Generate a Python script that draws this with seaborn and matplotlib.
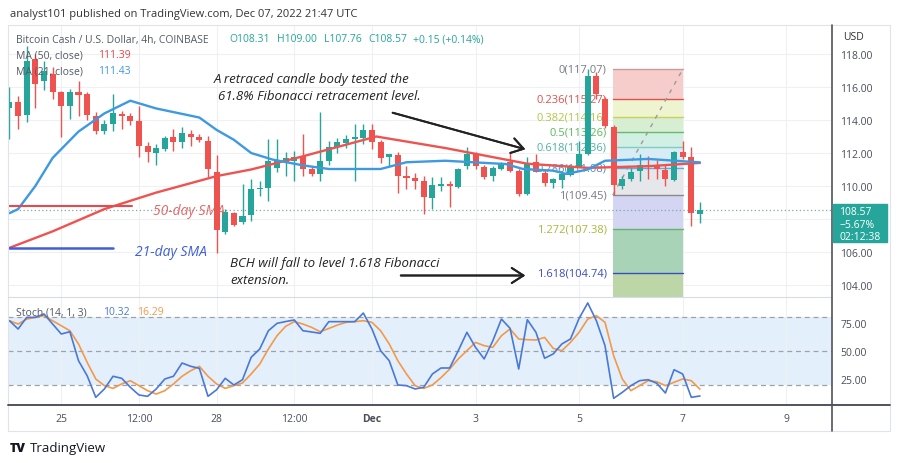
import numpy as np
import pandas as pd
import matplotlib
matplotlib.use("Agg")
import matplotlib.pyplot as plt
import seaborn as sns
from matplotlib.patches import Rectangle
from matplotlib.lines import Line2D

# ---- candles (4h bars, Nov 24 00:00 -> Dec 7 08:00) ----
opens = [114.7, 115.1, 114.3, 117.7, 116.35, 116.8, 115.7, 114.85, 115.7, 115.55,
         114.25, 113.35, 113.75, 114.35, 114.25, 113.95, 112.45, 112.0, 112.24, 112.95,
         112.65, 113.15, 112.95, 112.75, 110.87, 107.2, 108.36, 107.8, 108.24, 109.8,
         109.86, 111.07, 111.44, 111.53, 111.8, 111.03, 110.73, 111.53, 112.35, 112.6,
         112.85, 112.89, 113.41, 112.69, 111.74, 111.88, 110.63, 110.47, 110.32, 109.25,
         110.02, 110.1, 109.92, 111.23, 111.94, 111.13, 110.59, 111.03, 111.47, 110.93,
         109.52, 111.44, 110.79, 110.18, 110.38, 110.67, 111.13, 111.94, 116.65, 115.3,
         113.56, 109.98, 110.42, 110.93, 111.27, 111.23, 110.99, 110.38, 112.04, 111.74,
         108.31]
highs = [116.0, 115.45, 118.5, 118.0, 117.6, 117.2, 115.75, 115.9, 116.35, 115.7,
         114.5, 114.0, 115.6, 114.55, 114.4, 114.85, 112.65, 112.55, 113.05, 113.45,
         113.55, 113.4, 113.15, 113.05, 111.9, 108.6, 108.45, 110.1, 110.4, 110.3,
         112.85, 112.85, 112.06, 112.14, 113.15, 111.2, 114.5, 112.75, 112.9, 113.1,
         113.75, 113.76, 113.76, 112.8, 111.94, 112.04, 111.23, 110.77, 110.63, 110.53,
         110.53, 110.3, 111.1, 112.35, 112.05, 111.25, 111.2, 111.45, 112.08, 111.0,
         111.74, 111.94, 111.0, 110.5, 110.93, 111.3, 112.75, 117.07, 116.9, 115.4,
         113.7, 110.6, 111.1, 111.94, 111.84, 111.6, 111.3, 112.1, 112.75, 112.35,
         109.0]
lows = [112.85, 113.45, 113.9, 114.7, 115.8, 115.3, 113.0, 114.05, 114.25, 114.0,
        113.15, 113.15, 113.35, 113.45, 113.7, 111.75, 111.45, 111.27, 112.14, 112.14,
        112.3, 112.4, 112.65, 110.53, 105.95, 107.1, 107.55, 107.7, 107.85, 109.4,
        109.1, 110.85, 110.63, 110.32, 110.62, 110.6, 110.32, 111.3, 112.0, 112.3,
        110.3, 112.55, 112.24, 111.4, 111.2, 109.58, 109.82, 109.82, 108.3, 108.6,
        109.7, 108.7, 109.85, 111.03, 111.0, 110.4, 110.3, 110.95, 110.83, 109.4,
        109.45, 110.83, 110.0, 109.9, 109.86, 110.6, 111.13, 111.85, 115.3, 113.5,
        109.45, 109.8, 110.3, 110.32, 110.42, 110.4, 109.98, 110.3, 111.64, 107.6,
        107.76]
closes = [115.1, 114.25, 117.6, 116.2, 116.95, 115.7, 114.85, 115.7, 115.5, 114.3,
          113.35, 113.75, 114.4, 114.25, 113.95, 112.4, 112.05, 112.3, 112.9, 112.65,
          113.2, 113.0, 112.8, 111.03, 107.35, 108.4, 107.64, 108.2, 109.8, 109.87,
          111.53, 111.53, 111.68, 111.78, 111.0, 110.73, 111.53, 112.35, 112.65, 112.85,
          112.95, 113.41, 112.65, 111.68, 111.94, 110.59, 110.5, 110.32, 109.31, 110.06,
          110.12, 110.0, 111.03, 111.94, 111.23, 110.53, 111.07, 111.33, 110.93, 109.52,
          111.39, 110.87, 110.18, 110.42, 110.73, 111.13, 111.94, 116.69, 115.6, 113.65,
          110.06, 110.42, 110.83, 111.27, 111.13, 111.03, 110.42, 112.04, 111.74, 108.36,
          108.57]

# moving averages read at bar positions
ma50_bar = [0, 5, 11, 17, 24, 28, 34, 42.5, 50.5, 60, 67, 74, 80]
ma50_val = [106.25, 107.25, 108.6, 109.6, 110.6, 111.0, 111.8, 113.0, 112.3, 111.35, 111.1, 111.2, 111.4]
ma21_bar = [0, 1, 3, 5, 8, 11, 14, 17, 22, 24, 26, 28, 30.5, 34, 37, 43, 46, 50.5,
            57.5, 59.5, 63, 64.5, 67, 69, 74, 80]
ma21_val = [108.35, 108.6, 110.0, 111.7, 113.3, 114.4, 115.17, 114.7, 114.15, 113.4,
            112.8, 112.0, 111.6, 111.25, 111.03, 111.03, 111.44, 111.53, 111.33, 111.03,
            110.93, 110.73, 111.0, 111.53, 111.64, 111.43]

# stochastic %K / %D
stoch_k = [76.7, 69.4, 79.7, 79.7, 82.7, 73.8, 65.0, 67.0, 41.4, 28.2, 9.1, 16.5, 27.7,
           25.9, 18.0, 11.2, 10.0, 16.5, 25.3, 27.7, 39.4, 36.5, 34.7, 10.0, 15.8, 25.9,
           20.0, 24.7, 44.4, 51.8, 67.9, 74.4, 76.0, 77.4, 67.9, 66.8, 65.6, 75.9, 75.9,
           75.9, 75.9, 83.5, 69.4, 50.3, 41.4, 20.0, 19.4, 16.5, 18.0, 29.7, 35.0, 35.0,
           50.3, 66.5, 53.2, 43.0, 59.0, 78.2, 70.0, 34.1, 77.6, 66.5, 43.6, 47.4, 56.2,
           60.6, 78.8, 92.4, 76.7, 54.7, 8.2, 13.5, 19.4, 23.8, 24.7, 21.5, 12.9, 33.5,
           29.7, 9.1, 10.32]
stoch_d = [76.7, 73.8, 78.2, 79.7, 81.2, 76.7, 72.3, 67.9, 56.2, 40.0, 25.3, 19.4, 17.0,
           20.9, 23.8, 19.4, 15.0, 12.0, 15.0, 20.9, 27.7, 32.6, 36.5, 27.7, 20.9, 17.0,
           19.4, 21.8, 29.7, 38.5, 51.8, 63.5, 71.8, 75.9, 73.8, 70.9, 67.0, 69.9, 72.9,
           75.3, 75.9, 76.7, 75.3, 67.9, 56.2, 41.4, 29.7, 19.4, 17.0, 20.0, 26.5, 34.0,
           43.0, 50.3, 57.6, 54.7, 53.2, 63.5, 69.4, 60.6, 60.0, 59.7, 62.0, 52.3, 50.3,
           57.6, 66.5, 78.2, 81.2, 75.3, 45.9, 25.3, 15.0, 19.4, 23.8, 22.9, 19.4, 22.4,
           25.3, 23.8, 16.29]

# fibonacci retracement
fib_ratio = ["0", "0.236", "0.382", "0.5", "0.618", "0.786", "1", "1.272", "1.618"]
fib_price = [117.07, 115.27, 114.16, 113.26, 112.36, 111.08, 109.45, 107.38, 104.74]

# axis labels
price_ticks = [104, 106, 108, 110, 112, 114, 116, 118]
time_labels = ["25", "12:00", "28", "12:00", "Dec", "3", "5", "7", "9"]
time_bars = [6, 15, 24, 33, 42, 54, 66, 78, 90]

W, H = 900, 464
GREEN, RED = "#26a69a", "#ef5350"

sns.set_theme(style="white")
plt.rcParams["font.family"] = ["Open Sans", "DejaVu Sans"]

fig = plt.figure(figsize=(9, 4.64), dpi=100)


def box(x0, y0, x1, y1):
    return [x0 / W, 1 - y1 / H, (x1 - x0) / W, (y1 - y0) / H]


def fp(x, y):
    return x / W, 1 - y / H


ax = fig.add_axes(box(8, 26, 832, 298))
axs = fig.add_axes(box(8, 298, 832, 406))

df = pd.DataFrame({"o": opens, "h": highs, "l": lows, "c": closes})
df["bar"] = np.arange(len(df))
df["up"] = df["c"] >= df["o"]
colors = np.where(df["up"], GREEN, RED)
bottoms = df[["o", "c"]].min(axis=1)
heights = (df["c"] - df["o"]).abs().clip(lower=0.06)

# fib levels (behind candles)
fib_fill = ["#f7cdcc", "#eef4d0", "#d8eed2", "#d2efe4", "#d8ecf6", "#e6e7ea",
            "#d3d5f3", "#a9d3b6", "#bcd6a8"]
fib_line = ["#c99a9a", "#d9534f", "#c5d35a", "#66bb6a", "#7fcdbf", "#5aaedc",
            "#8a8a8a", "#66b36e", "#3b4cc0"]
fib_text = ["#787b86", "#d9534f", "#b5c544", "#5cb860", "#4fb3a0", "#4a90c8",
            "#787b86", "#a8b83a", "#3b4cc0"]
fx0, fx1 = 69.9, 78.0
edges = fib_price + [97.0]
for k in range(len(fib_price)):
    ax.fill_between([fx0, fx1], edges[k], edges[k + 1], color=fib_fill[k], lw=0, zorder=1)
    ax.plot([fx0, fx1], [fib_price[k], fib_price[k]], color=fib_line[k], lw=1, zorder=1.5)
    ax.text(fx0 - 0.7, fib_price[k], f"{fib_ratio[k]}({fib_price[k]:.2f})", ha="right",
            va="center", fontsize=8, color=fib_text[k], zorder=1.6)
ax.plot([fx0, fx1], [fib_price[6], fib_price[0]], ls=(0, (3, 4)), color="#9a9a9a", lw=1, zorder=1.7)

# candles
ax.vlines(df["bar"], df["l"], df["h"], color=colors, lw=1, zorder=3)
ax.bar(df["bar"], heights, bottom=bottoms, width=0.7, color=colors, lw=0, zorder=4)

# moving averages
sns.lineplot(x=ma50_bar, y=ma50_val, ax=ax, color="#ef5350", lw=1.7, zorder=5)
sns.lineplot(x=ma21_bar, y=ma21_val, ax=ax, color="#3d9ae0", lw=1.7, zorder=5)

# hand-drawn legend lines
ax.plot([0, 14.2], [108.8, 108.8], color="#e8494f", lw=1.5, zorder=6)
ax.plot([0, 12], [106.24, 106.24], color="#3f5fd6", lw=1.8, zorder=6)

ax.axhline(closes[-1], ls=(0, (1, 2)), color="#7fa9a4", lw=0.9, zorder=2)

ax.set_xlim(-0.17, 95.3)
ax.set_ylim(103.27, 119.76)
ax.set_yticks(price_ticks)
ax.set_yticklabels([f"{v:.2f}" if v != 108 else "" for v in price_ticks])
ax.yaxis.tick_right()
ax.set_xticks(time_bars)
ax.tick_params(axis="x", length=0, labelbottom=False)
ax.tick_params(axis="y", length=0, pad=6, labelsize=7.5, labelcolor="#4a4e59")
ax.grid(True, color="#eef0f4", lw=0.8)
ax.set_xlabel("")
ax.set_ylabel("")
for s in ax.spines.values():
    s.set_visible(False)

# stochastic panel
axs.axhspan(20, 80, color="#e3f0fb", lw=0, zorder=0)
for lv in (80, 50, 20):
    axs.axhline(lv, ls=(0, (4, 3)), color="#9ea1aa", lw=0.9, zorder=1)
bars = np.arange(len(stoch_k))
sns.lineplot(x=bars, y=stoch_d, ax=axs, color="#f2994a", lw=1.2, zorder=3)
sns.lineplot(x=bars, y=stoch_k, ax=axs, color="#4a78d6", lw=1.2, zorder=4)
axs.set_xlim(-0.17, 95.3)
axs.set_ylim(2.34, 97.66)
axs.set_yticks([25, 50, 75])
axs.set_yticklabels(["25.00", "50.00", "75.00"])
axs.yaxis.tick_right()
axs.set_xticks(time_bars)
axs.set_xticklabels(time_labels)
for lbl in axs.get_xticklabels():
    if lbl.get_text() == "Dec":
        lbl.set_fontweight("bold")
axs.tick_params(axis="x", length=0, pad=6, labelsize=7.5, labelcolor="#4a4e59")
axs.tick_params(axis="y", length=0, pad=6, labelsize=7.5, labelcolor="#4a4e59")
axs.grid(True, axis="x", color="#eef0f4", lw=0.8)
axs.set_xlabel("")
axs.set_ylabel("")
for s in axs.spines.values():
    s.set_visible(False)

# frame lines
def fline(x0, y0, x1, y1, color, lw):
    a, b = fp(x0, y0)
    c, d = fp(x1, y1)
    fig.add_artist(Line2D([a, c], [b, d], color=color, lw=lw, transform=fig.transFigure, zorder=8))

fline(8, 26, 890, 26, "#e0e3eb", 0.8)
fline(8, 26, 8, 432, "#e0e3eb", 0.8)
fline(890, 26, 890, 432, "#e0e3eb", 0.8)
fline(8, 432, 890, 432, "#e0e3eb", 0.8)
fline(8, 298, 832, 298, "#d8dbe3", 0.8)
fline(8, 406, 890, 406, "#50535e", 1.4)
fline(832, 26, 832, 432, "#50535e", 1.2)

# header & legends
fig.text(*fp(10, 14), "analyst101 published on TradingView.com, Dec 07, 2022 21:47 UTC",
         fontsize=8, color="#333333", va="center")
fig.text(*fp(16, 40), "Bitcoin Cash / U.S. Dollar, 4h, COINBASE", fontsize=7.5,
         color="#555a64", va="center")
for xx, t in [(229, "O108.31"), (277, "H109.00"), (324, "L107.76"), (368, "C108.57"),
              (413, "+0.15 (+0.14%)")]:
    fig.text(*fp(xx, 40), t, fontsize=7.5, color=GREEN, va="center")
fig.text(*fp(16, 56), "MA (50, close)", fontsize=7.5, color="#555a64", va="center")
fig.text(*fp(98, 56), "111.39", fontsize=7.5, color="#e04848", va="center")
fig.text(*fp(16, 72), "MA (21, close)", fontsize=7.5, color="#555a64", va="center")
fig.text(*fp(98, 72), "111.43", fontsize=7.5, color="#3d9ae0", va="center")
fig.text(*fp(16, 313), "Stoch (14, 1, 3)", fontsize=7.5, color="#555a64", va="center", zorder=9)
fig.text(*fp(103, 313), "10.32", fontsize=7.5, color="#4a78d6", va="center", zorder=9)
fig.text(*fp(137, 313), "16.29", fontsize=7.5, color="#f2994a", va="center", zorder=9)

# annotations
fig.text(*fp(312, 80), "A retraced candle body tested the", fontsize=9.5, style="italic",
         color="#222222", ha="center", va="center")
fig.text(*fp(319, 96), "61.8% Fibonacci retracement level.", fontsize=9.5, style="italic",
         color="#222222", ha="center", va="center")
fig.text(*fp(230, 264), "BCH will fall to level 1.618 Fibonacci", fontsize=9.5,
         style="italic", color="#222222", va="center")
fig.text(*fp(230, 280), "extension.", fontsize=9.5, style="italic", color="#222222", va="center")
fig.text(*fp(153, 212), "50-day SMA", fontsize=10, style="italic", color="#e05a5a",
         va="center", alpha=0.9)
fig.text(*fp(135, 253), "21-day SMA", fontsize=10, style="italic", color="#3f5fd6", va="center")

arrow = dict(arrowstyle="->,head_length=0.7,head_width=0.45", color="#222222", lw=1.4)
fig.add_artist(plt.annotate("", xy=fp(528, 151), xytext=fp(390, 113),
                            xycoords="figure fraction", arrowprops=arrow))
fig.add_artist(plt.annotate("", xy=fp(528, 276.5), xytext=fp(398, 276.5),
                            xycoords="figure fraction", arrowprops=arrow))

# price axis label & last price tag
fig.text(*fp(843, 37), "USD", fontsize=7.5, color="#333333", va="center")
tag = Rectangle(fp(833, 243), 54 / W, 38 / H, transform=fig.transFigure,
                color=GREEN, zorder=9)
fig.add_artist(tag)
for yy, t in [(213, "108.57"), (226, "\u22125.67%"), (238, "02:12:38")]:
    fig.text(*fp(839, yy), t, fontsize=7.5, color="white", va="center", zorder=10)

# footer logo
fig.text(*fp(10, 449), "TV", fontsize=9, weight="heavy", color="#131722", va="center")
fig.text(*fp(30, 449), "TradingView", fontsize=9.5, color="#131722", va="center")

fig.savefig("out.png", dpi=100)
